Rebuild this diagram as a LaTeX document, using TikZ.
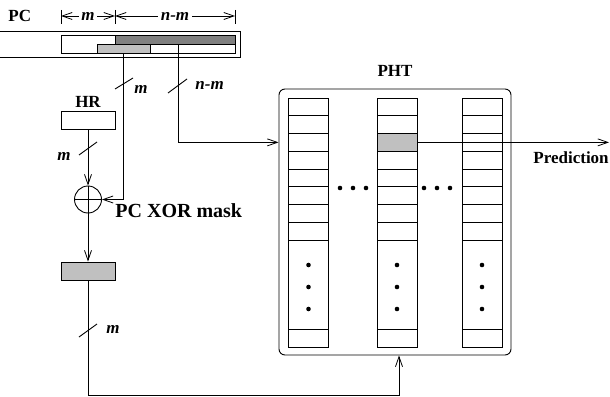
\documentclass[tikz,border=0pt]{standalone}
\usepackage{fontspec}
\setmainfont{Liberation Serif}
\usetikzlibrary{arrows.meta,calc}
\definecolor{lgray}{RGB}{192,192,192}
\definecolor{dgray}{RGB}{128,128,128}
\begin{document}
\begin{tikzpicture}[x=1pt,y=-1pt,line width=0.9pt,
  lbl/.style={font=\fontsize{17}{20}\selectfont\bfseries, inner sep=0},
  ilbl/.style={font=\fontsize{17}{20}\selectfont\bfseries\itshape, inner sep=0},
  barb/.style={-{Straight Barb[length=10pt,width=7pt,line width=0.8pt]}},
  dimarr/.style={{Straight Barb[length=10pt,width=7pt,line width=0.8pt]}-{Straight Barb[length=10pt,width=7pt,line width=0.8pt]}},
  cellbox/.style={draw, minimum width=40pt, minimum height=17.75pt, inner sep=0},
  reg/.style={draw, minimum width=54pt, minimum height=18pt, inner sep=0},
  dotc/.style={circle, fill=black, inner sep=0, minimum size=4.6pt}]
\useasboundingbox (0,0) rectangle (610,396);
% PC register
\draw (0,31) -- (240,31) -- (240,57) -- (0,57);
\node[draw, fill=white, minimum width=174pt, minimum height=18pt, inner sep=0] (pcw) at (148,44) {};
\node[draw, fill=dgray, minimum width=120pt, minimum height=9pt, inner sep=0] (dpc) at (175,39.5) {};
\node[draw, fill=lgray, minimum width=53pt, minimum height=9pt, inner sep=0] (lpc) at (123.5,48.5) {};
\node[lbl, anchor=base west] (pclbl) at (8,22) {PC};
% dimension lines
\coordinate (t1) at (61,16);
\coordinate (t2) at (115,16);
\coordinate (t3) at (235,16);
\foreach \x in {61,115,235} \draw (\x,10) -- (\x,24);
\draw[dimarr] (t1) -- node[ilbl, fill=white, inner xsep=2pt, inner ysep=1pt] (dm) {m} (t2);
\draw[dimarr] (t2) -- node[ilbl, fill=white, inner xsep=3pt, inner ysep=1pt] (dnm) {n-m} (t3);
% HR
\node[lbl] (hrlbl) at (88,102) {HR};
\node[reg] (hr) at (88,120) {};
% XOR
\node[circle, draw, minimum size=27pt, inner sep=0] (xor) at (88,199.5) {};
\draw (xor.north) -- (xor.south) (xor.west) -- (xor.east);
\node[font=\fontsize{20}{24}\selectfont\bfseries, inner sep=0, anchor=base west] (xorlbl) at (115,217) {PC XOR mask};
% masked index register
\node[reg, fill=lgray] (gb) at (88,271) {};
% PHT
\node[lbl] (phtlbl) at (395,71) {PHT};
\node[draw, rounded corners=6pt, minimum width=232pt, minimum height=266pt, inner sep=0] (pht) at (395,222) {};
\foreach \cx in {308.5,397,482} {
  \foreach \r in {0,...,7} \node[cellbox] at (\cx,{106.875+17.75*\r}) {};
  \node[draw, minimum width=40pt, minimum height=89pt, inner sep=0] at (\cx,284.5) {};
  \node[cellbox, minimum height=18pt] at (\cx,338) {};
  \foreach \dy in {265,287,309} \node[dotc] at (\cx,\dy) {};
}
\node[cellbox, fill=lgray] (gcell) at (397,142.375) {};
\foreach \dx in {340,353,366,424,437,450} \node[dotc] at (\dx,188) {};
% Prediction
\coordinate (predend) at (609,142.375);
\draw[barb] (gcell.east) -- (predend);
\node[lbl, anchor=base west] (predlbl) at (533,163) {Prediction};
% connectors
\draw[barb] (lpc.south) |- (xor.east);
\draw[barb] ([xshift=3pt]dpc.south) |- (pht.west |- gcell.center);
\draw[barb] (hr.south) -- (xor.north);
\draw[barb] (xor.south) -- (gb.north);
\draw[barb] (gb.south) |- ([xshift=4pt]pht.south |- 0,395) -- ([xshift=4pt]pht.south);
% bus-width slashes and labels
\draw (115,89) -- (133,78);
\node[ilbl, anchor=base west] (m1) at (134,93) {m};
\draw (168,93) -- (187,79);
\node[ilbl, anchor=base west] (nm1) at (195,89) {n-m};
\draw (79,155) -- (97,142);
\node[ilbl, anchor=base west] (m2) at (57,160) {m};
\draw (79,337) -- (97,324);
\node[ilbl, anchor=base west] (m3) at (106,333) {m};
\end{tikzpicture}
\end{document}
